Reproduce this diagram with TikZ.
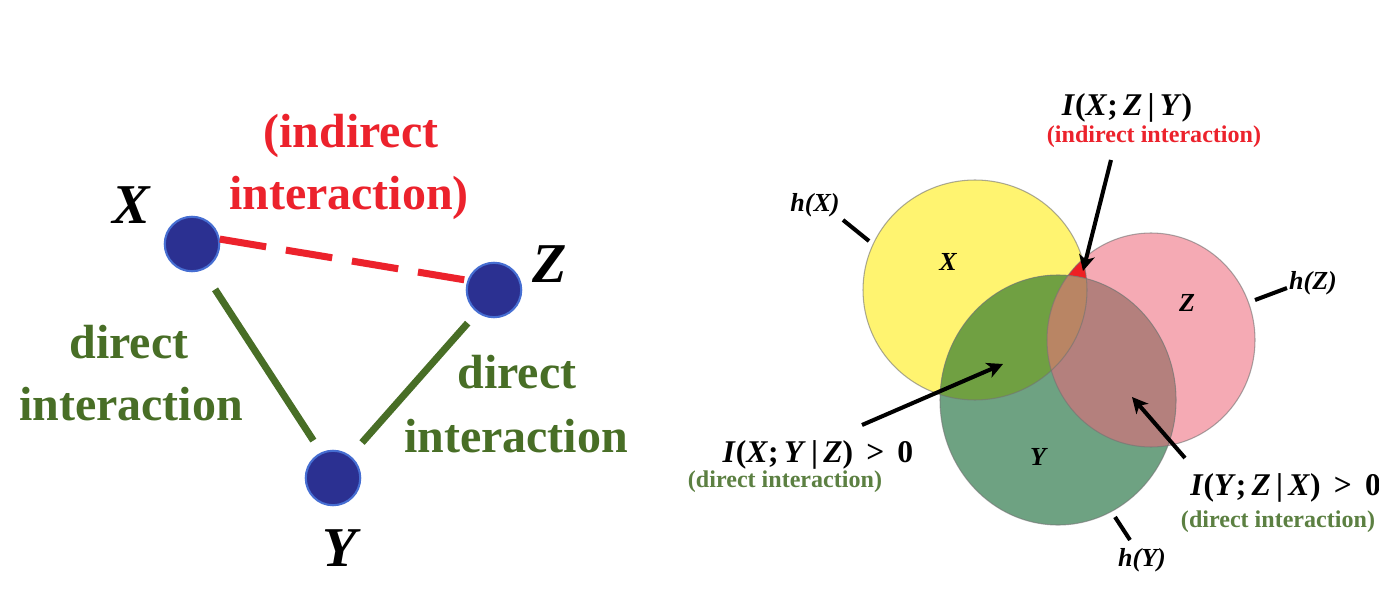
\documentclass[tikz,border=0pt]{standalone}
\usepackage{fontspec}
\setmainfont{Liberation Serif}
\usetikzlibrary{arrows.meta}
\definecolor{nodeblue}{RGB}{43,48,145}
\definecolor{nodeedge}{RGB}{70,110,210}
\definecolor{lred}{RGB}{236,34,44}
\definecolor{lgreen}{RGB}{72,110,38}
\definecolor{tgreen}{RGB}{92,128,66}
\definecolor{cYel}{RGB}{255,244,112}
\definecolor{cPink}{RGB}{245,170,180}
\definecolor{cGrn}{RGB}{110,162,130}
\definecolor{cXY}{RGB}{112,160,66}
\definecolor{cXZ}{RGB}{238,32,36}
\definecolor{cYZ}{RGB}{180,128,125}
\definecolor{cXYZ}{RGB}{185,133,100}
\begin{document}
\begin{tikzpicture}[x=0.02cm,y=-0.02cm,
  vnode/.style={circle, fill=nodeblue, draw=nodeedge, line width=1.2pt, minimum size=31pt, inner sep=0pt},
  bigtxt/.style={font=\fontsize{27.3pt}{32pt}\selectfont\bfseries, inner sep=0pt, anchor=base},
  biglab/.style={font=\fontsize{32pt}{36pt}\selectfont\bfseries\itshape, inner sep=0pt},
  directline/.style={draw=lgreen, line width=4pt},
  indline/.style={draw=lred, line width=4pt, dash pattern=on 26.7pt off 11.4pt},
  formula/.style={font=\fontsize{18pt}{21pt}\selectfont\bfseries, inner sep=0pt},
  small/.style={font=\fontsize{13.7pt}{16pt}\selectfont\bfseries, inner sep=0pt},
  vlab/.style={font=\fontsize{14.8pt}{17pt}\selectfont\bfseries\itshape, inner sep=0pt},
  outl/.style={draw=black!55, draw opacity=0.6, line width=0.6pt},
  arr/.style={line width=2.3pt, -{Stealth[length=9pt, width=9pt, inset=2.5pt]}},
  tick/.style={line width=2.3pt}
]
\useasboundingbox (0,0) rectangle (1379,591);
\fill[white] (0,0) rectangle (1379,591);

% ---------------- left graph ----------------
\node[vnode] (X) at (192,244) {};
\node[vnode] (Z) at (494,290) {};
\node[vnode] (Y) at (333,478) {};
\node[biglab] (Xl) at (131,205) {X};
\node[biglab] (Zl) at (550,264) {Z};
\node[biglab] (Yl) at (340,548) {Y};

\draw[indline] (X.10) -- (Z.160);
\draw[directline, shorten <=13pt, shorten >=8pt] (X.-68) -- (Y.115);
\draw[directline, shorten <=8pt, shorten >=10pt] (Z.233) -- (Y.52);

\node[bigtxt, text=lred] (ind1) at (351,148) {(indirect};
\node[bigtxt, text=lred] (ind2) at (349,210) {interaction)};
\node[bigtxt, text=lgreen] (dl1) at (129,358) {direct};
\node[bigtxt, text=lgreen] (dl2) at (131,420) {interaction};
\node[bigtxt, text=lgreen] (dr1) at (517,388) {direct};
\node[bigtxt, text=lgreen] (dr2) at (516,452) {interaction};

% ---------------- right Venn diagram ----------------
\def\pX{(975,290) ellipse [x radius=112, y radius=110]}
\def\pZ{(1151,340) ellipse [x radius=104, y radius=107]}
\def\pY{(1058,400) ellipse [x radius=118, y radius=125]}
\fill[cYel] \pX;
\fill[cPink] \pZ;
\fill[cGrn] \pY;
\begin{scope}
  \clip \pX;
  \fill[cXZ] \pZ;
  \fill[cXY] \pY;
\end{scope}
\begin{scope}
  \clip \pZ;
  \fill[cYZ] \pY;
\end{scope}
\begin{scope}
  \clip \pX;
  \clip \pZ;
  \fill[cXYZ] \pY;
\end{scope}
\draw[outl] \pX;
\draw[outl] \pZ;
\draw[outl] \pY;

\node[vlab] (vX) at (948,262) {X};
\node[vlab] (vZ) at (1187,303) {Z};
\node[vlab] (vY) at (1038,457) {Y};

\node[vlab] (hX) at (815,205) {h(X)};
\node[vlab] (hZ) at (1313,283) {h(Z)};
\node[vlab] (hY) at (1142,560) {h(Y)};
\coordinate (hXa) at (843,220); \coordinate (hXb) at (869,241);
\coordinate (hZa) at (1287,288); \coordinate (hZb) at (1255,300);
\coordinate (hYa) at (1130,540); \coordinate (hYb) at (1115,517);
\draw[tick] (hXa) -- (hXb);
\draw[tick] (hZa) -- (hZb);
\draw[tick] (hYa) -- (hYb);

\node[formula] (f1) at (1127,108) {\textit{I}(\textit{X};\,\textit{Z}\,|\,\textit{Y})};
\node[small, text=lred] (f1t) at (1154,137) {(indirect interaction)};
\node[formula] (f2) at (818,455) {\textit{I}(\textit{X};\,\textit{Y}\,|\,\textit{Z}) \,>\, 0};
\node[small, text=tgreen] (f2t) at (785,482) {(direct interaction)};
\node[formula, anchor=west] (f3) at (1190,488) {\textit{I}(\textit{Y};\,\textit{Z}\,|\,\textit{X}) \,>\, 0};
\node[small, text=tgreen] (f3t) at (1278,522) {(direct interaction)};

\coordinate (a1s) at (1111,160); \coordinate (a1e) at (1083,271);
\coordinate (a2s) at (862,425);  \coordinate (a2e) at (1003,364);
\coordinate (a3s) at (1185,458); \coordinate (a3e) at (1132,397);
\draw[arr] (a1s) -- (a1e);
\draw[arr] (a2s) -- (a2e);
\draw[arr] (a3s) -- (a3e);
\end{tikzpicture}
\end{document}
